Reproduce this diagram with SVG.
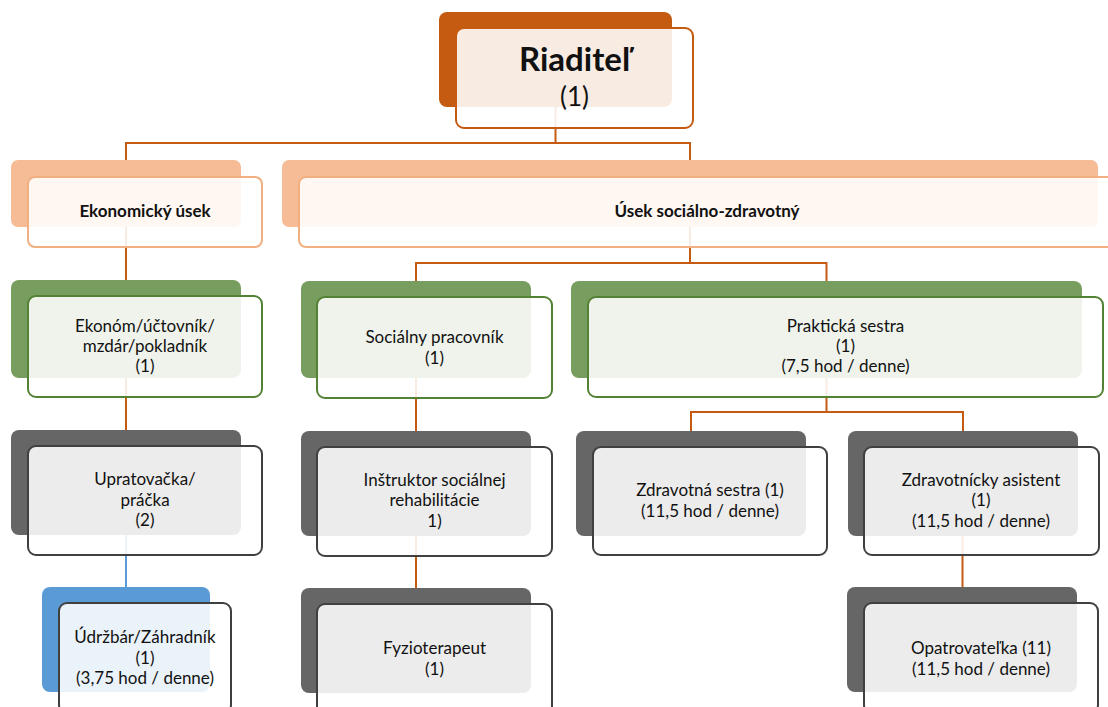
<svg xmlns="http://www.w3.org/2000/svg" width="1108" height="707" viewBox="0 0 1108 707">
<style>
  .back{stroke:none}
  .front{fill:#ffffff;fill-opacity:0.88;stroke-width:2}
  .c-dor{fill:#C55A11}
  .s-dor{stroke:#C55A11}
  .c-lor{fill:#F5BC95}
  .s-lor{stroke:#F2AF82}
  .c-grn{fill:#789E5F}
  .s-grn{stroke:#548235}
  .c-gry{fill:#666666}
  .s-gry{stroke:#404040}
  .c-blu{fill:#5B9BD5}
  text{font-family:Lato,"Open Sans","Liberation Sans",sans-serif;fill:#111111;text-anchor:middle}
  .t{font-size:17px}
  .tb{font-size:17px;font-weight:bold}
  .conn{fill:none;stroke:#C55A11;stroke-width:2}
  .conn-blue{fill:none;stroke:#5B9BD5;stroke-width:2}
</style>

<g id="connectors">
  <path class="conn" d="M555.5 107 V143"/>
  <path class="conn" d="M126 160 V143 H690 V160"/>
  <path class="conn" d="M126 227 V280"/>
  <path class="conn" d="M690 227 V263"/>
  <path class="conn" d="M416 281 V263 H826.5 V281"/>
  <path class="conn" d="M126 378 V430"/>
  <path class="conn" d="M416 378 V431"/>
  <path class="conn" d="M826.5 378 V412"/>
  <path class="conn" d="M691 431 V412 H963 V431"/>
  <path class="conn-blue" d="M126 535 V587"/>
  <path class="conn" d="M416 536 V588"/>
  <path class="conn" d="M962.5 536 V587"/>
</g>

<g id="riaditel">
  <rect class="back c-dor" x="439" y="12" width="233" height="95" rx="8"/>
  <rect class="front s-dor" x="456" y="28" width="237" height="100" rx="8"/>
  <text x="574.5" y="71" style="font-size:33px;font-weight:bold">Riaditeľ</text>
  <text x="574.5" y="106" style="font-size:26px">(1)</text>
</g>

<g id="ekonomicky-usek">
  <rect class="back c-lor" x="11" y="160" width="230" height="67" rx="7"/>
  <rect class="front s-lor" x="28" y="177" width="234" height="70" rx="7"/>
  <text class="tb" x="145" y="217">Ekonomický úsek</text>
</g>

<g id="usek-socialno-zdravotny">
  <rect class="back c-lor" x="282" y="160" width="816" height="67" rx="7"/>
  <rect class="front s-lor" x="299" y="177" width="820" height="70" rx="7"/>
  <text class="tb" x="707" y="217">Úsek sociálno-zdravotný</text>
</g>

<g id="ekonom">
  <rect class="back c-grn" x="11" y="280" width="230" height="98" rx="8"/>
  <rect class="front s-grn" x="28" y="296" width="234" height="101" rx="8"/>
  <text class="t" x="145" y="332">Ekonóm/účtovník/</text>
  <text class="t" x="145" y="352">mzdár/pokladník</text>
  <text class="t" x="145" y="372">(1)</text>
</g>

<g id="socialny-pracovnik">
  <rect class="back c-grn" x="301" y="281" width="230" height="97" rx="8"/>
  <rect class="front s-grn" x="317" y="297" width="235" height="101" rx="8"/>
  <text class="t" x="434.5" y="343">Sociálny pracovník</text>
  <text class="t" x="434.5" y="364">(1)</text>
</g>

<g id="prakticka-sestra">
  <rect class="back c-grn" x="571" y="281" width="511" height="97" rx="8"/>
  <rect class="front s-grn" x="588" y="297" width="515" height="100" rx="8"/>
  <text class="t" x="845.5" y="332">Praktická sestra</text>
  <text class="t" x="845.5" y="352">(1)</text>
  <text class="t" x="845.5" y="372">(7,5 hod / denne)</text>
</g>

<g id="upratovacka">
  <rect class="back c-gry" x="11" y="430" width="230" height="105" rx="8"/>
  <rect class="front s-gry" x="28" y="446" width="234" height="109" rx="8"/>
  <text class="t" x="145" y="485">Upratovačka/</text>
  <text class="t" x="145" y="505.5">práčka</text>
  <text class="t" x="145" y="526">(2)</text>
</g>

<g id="instruktor">
  <rect class="back c-gry" x="301" y="431" width="230" height="105" rx="8"/>
  <rect class="front s-gry" x="317" y="447" width="235" height="109" rx="8"/>
  <text class="t" x="434.5" y="485.5">Inštruktor sociálnej</text>
  <text class="t" x="434.5" y="506">rehabilitácie</text>
  <text class="t" x="434.5" y="526.5">1)</text>
</g>

<g id="zdravotna-sestra">
  <rect class="back c-gry" x="576" y="431" width="230" height="105" rx="8"/>
  <rect class="front s-gry" x="593" y="447" width="234" height="108" rx="8"/>
  <text class="t" x="710" y="496">Zdravotná sestra (1)</text>
  <text class="t" x="710" y="517">(11,5 hod / denne)</text>
</g>

<g id="zdravotnicky-asistent">
  <rect class="back c-gry" x="848" y="431" width="230" height="105" rx="8"/>
  <rect class="front s-gry" x="864" y="447" width="235" height="108" rx="8"/>
  <text class="t" x="981" y="485.5">Zdravotnícky asistent</text>
  <text class="t" x="981" y="506">(1)</text>
  <text class="t" x="981" y="526.5">(11,5 hod / denne)</text>
</g>

<g id="udrzbar">
  <rect class="back c-blu" x="42" y="587" width="168" height="105" rx="8"/>
  <rect class="front s-gry" x="59" y="603" width="172" height="110" rx="8"/>
  <text class="t" x="145" y="643">Údržbár/Záhradník</text>
  <text class="t" x="145" y="663.5">(1)</text>
  <text class="t" x="145" y="684">(3,75 hod / denne)</text>
</g>

<g id="fyzioterapeut">
  <rect class="back c-gry" x="301" y="588" width="230" height="105" rx="8"/>
  <rect class="front s-gry" x="317" y="604" width="235" height="110" rx="8"/>
  <text class="t" x="434.5" y="654">Fyzioterapeut</text>
  <text class="t" x="434.5" y="674.5">(1)</text>
</g>

<g id="opatrovatelka">
  <rect class="back c-gry" x="847" y="587" width="230" height="105" rx="8"/>
  <rect class="front s-gry" x="864" y="603" width="234" height="110" rx="8"/>
  <text class="t" x="981" y="654">Opatrovateľka (11)</text>
  <text class="t" x="981" y="675">(11,5 hod / denne)</text>
</g>
</svg>
